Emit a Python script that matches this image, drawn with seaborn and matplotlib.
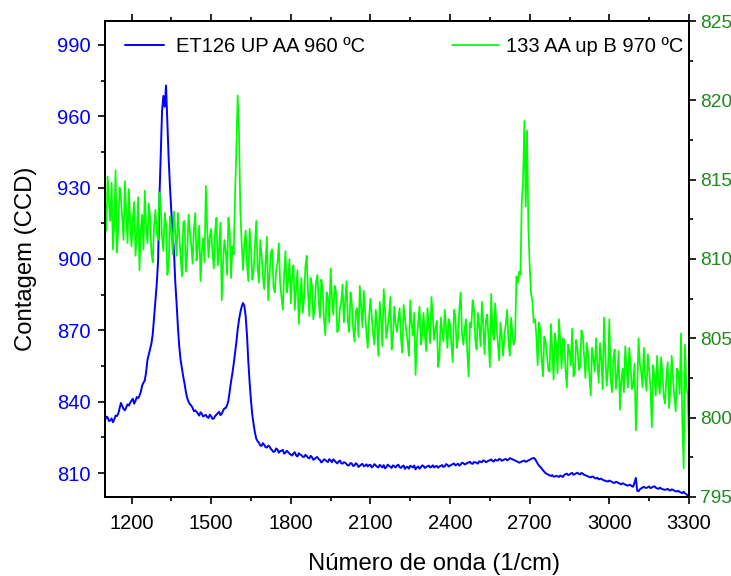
import numpy as np
import pandas as pd
import matplotlib
matplotlib.use("Agg")
import matplotlib.pyplot as plt
from matplotlib.ticker import MultipleLocator
import seaborn as sns

# Raman shift grid (1/cm): samples at 1100, 1105, ..., 3300
wavenumber = np.arange(1100, 3300.1, 5)

# ET126 UP AA 960 ºC (left axis) -- readings at 1100, 1110, ..., 3300
et126_even = [
    832.0, 833.5, 832.2, 831.4, 834.2, 835.0, 839.5, 837.0, 837.6, 838.4,
    840.5, 839.2, 842.0, 842.6, 846.8, 849.0, 857.5, 862.0, 868.5, 882.0,
    899.0, 943.0, 968.5, 972.9, 942.0, 920.0, 903.0, 881.0, 863.0, 854.0,
    847.5, 841.5, 839.0, 837.5, 836.4, 835.0, 835.6, 833.8, 834.5, 833.2,
    833.9, 833.0, 834.6, 835.8, 835.0, 837.2, 838.5, 844.5, 852.0, 860.5,
    870.5, 877.5, 881.5, 876.0, 857.0, 840.5, 830.5, 824.5, 822.8, 821.5,
    821.9, 820.8, 821.2, 819.6, 819.2, 819.9, 819.3, 819.8, 818.6, 818.9,
    817.8, 818.3, 817.5, 818.4, 817.6, 816.8, 817.2, 816.2, 816.7, 816.0,
    816.8, 815.5, 815.0, 815.6, 814.7, 815.4, 815.8, 814.6, 814.9, 814.2,
    814.6, 813.8, 813.4, 814.0, 813.3, 813.7, 813.1, 813.9, 813.2, 812.8,
    813.5, 812.9, 813.3, 812.4, 813.0, 813.4, 812.6, 813.1, 812.2, 812.9,
    813.2, 812.5, 812.9, 811.8, 812.7, 813.1, 812.4, 811.6, 812.8, 812.5,
    813.0, 812.6, 813.2, 812.7, 812.4, 813.0, 812.8, 813.4, 812.9, 813.5,
    813.2, 813.8, 813.3, 814.0, 813.6, 814.2, 813.9, 814.5, 814.1, 814.7,
    814.4, 815.0, 814.6, 815.2, 814.9, 815.4, 815.1, 815.7, 815.3, 815.8,
    815.5, 816.0, 815.7, 816.1, 815.6, 815.0, 814.4, 814.9, 815.3, 815.0,
    815.6, 816.2, 816.0, 814.0, 812.6, 811.2, 810.0, 809.4, 808.8, 808.5,
    808.9, 808.4, 808.7, 809.3, 809.8, 809.4, 810.1, 809.6, 810.2, 809.5,
    809.8, 809.1, 808.6, 808.2, 808.5, 807.8, 807.4, 807.7, 807.0, 806.6,
    806.9, 806.3, 805.9, 806.2, 805.6, 805.8, 805.2, 804.8, 805.0, 804.3,
    808.0, 802.4, 803.6, 804.2, 803.8, 804.4, 804.0, 804.5, 803.6, 803.9,
    803.3, 803.0, 803.4, 802.7, 803.0, 802.4, 802.6, 801.9, 802.2, 801.2,
    800.2,
]
# ET126 readings at 1105, 1115, ..., 3295
et126_odd = [
    833.8, 831.9, 833.0, 832.6, 834.0, 837.2, 838.2, 836.4, 838.9, 839.6,
    841.3, 840.4, 841.5, 844.2, 848.0, 852.4, 859.8, 864.5, 875.5, 889.5,
    925.0, 962.0, 964.0, 958.0, 930.0, 911.0, 890.0, 871.0, 857.5, 850.5,
    844.0, 840.0, 838.4, 836.0, 835.8, 834.2, 834.9, 834.2, 833.6, 834.6,
    832.8, 834.0, 835.2, 834.4, 836.3, 837.4, 840.5, 848.5, 856.0, 865.0,
    874.5, 880.0, 880.3, 868.0, 848.0, 834.5, 827.0, 823.4, 821.6, 822.6,
    820.9, 821.6, 820.2, 818.9, 820.4, 818.6, 819.4, 818.2, 819.4, 818.2,
    817.4, 818.8, 817.0, 817.8, 816.9, 817.7, 816.5, 817.3, 815.6, 816.5,
    815.9, 814.5, 815.8, 815.0, 815.9, 814.6, 815.3, 814.1, 815.3, 814.0,
    814.4, 813.2, 814.3, 813.0, 814.2, 812.6, 813.6, 812.9, 813.7, 813.4,
    812.4, 813.8, 812.7, 813.5, 812.4, 812.0, 813.6, 812.7, 813.3, 812.4,
    813.6, 812.2, 813.2, 812.5, 811.9, 812.8, 813.2, 812.4, 811.9, 813.3,
    812.2, 812.9, 812.4, 813.3, 812.9, 812.3, 813.1, 812.6, 813.8, 812.8,
    813.5, 814.1, 813.6, 813.2, 814.4, 813.7, 814.3, 814.8, 813.9, 814.5,
    814.0, 814.8, 815.4, 814.6, 815.3, 815.8, 814.9, 815.4, 816.0, 815.2,
    815.8, 815.4, 816.3, 815.8, 815.3, 814.8, 814.6, 815.1, 814.8, 815.4,
    816.0, 816.4, 815.0, 813.2, 812.0, 810.6, 809.7, 809.1, 809.2, 808.6,
    808.7, 809.0, 808.4, 809.6, 809.2, 809.9, 809.3, 809.9, 809.7, 810.1,
    809.3, 808.9, 808.4, 808.6, 807.9, 808.1, 807.6, 807.2, 806.8, 806.5,
    806.6, 806.0, 806.4, 805.8, 805.3, 805.5, 804.9, 805.1, 804.5, 806.2,
    802.6, 803.2, 804.0, 803.9, 804.1, 803.7, 804.3, 803.9, 803.4, 803.6,
    803.1, 803.2, 802.9, 803.2, 802.6, 802.3, 802.1, 801.6, 801.5, 800.6,
]

# 133 AA up B 970 ºC (right axis) -- readings at 1100, 1110, ..., 3300
s133_even = [
    813.1, 815.2, 812.4, 810.6, 815.6, 812.0, 813.8, 811.2, 812.9, 814.4,
    810.8, 813.6, 811.5, 809.3, 812.8, 814.3, 811.0, 812.6, 809.8, 813.1,
    811.2, 813.4, 810.5, 812.2, 809.6, 811.8, 813.0, 810.2, 811.5, 808.9,
    812.4, 810.4, 811.7, 809.7, 812.9, 810.8, 808.6, 811.3, 814.6, 810.1,
    811.9, 809.4, 812.6, 810.6, 807.4, 811.2, 809.0, 811.7, 810.8, 814.0,
    820.3, 813.0, 809.3, 811.8, 808.6, 810.7, 809.2, 812.4, 808.5, 810.3,
    808.1, 811.4, 809.0, 810.6, 807.9, 809.8, 808.4, 806.8, 810.5, 808.6,
    807.2, 809.6, 808.0, 805.9, 808.8, 807.5, 810.2, 806.4, 808.3, 807.0,
    809.0, 806.3, 808.1, 805.2, 807.6, 809.4, 806.5, 808.0, 805.6, 807.3,
    806.0, 808.6, 805.4, 807.2, 804.8, 806.9, 808.3, 805.7, 806.6, 804.4,
    807.5, 805.3, 806.8, 803.9, 806.2, 808.1, 805.0, 806.5, 804.3, 807.0,
    805.4, 806.9, 804.1, 806.3, 804.8, 807.4, 805.2, 802.7, 806.0, 804.6,
    806.6, 804.2, 805.8, 807.6, 804.9, 806.1, 803.8, 805.5, 806.8, 804.4,
    805.9, 803.5, 806.4, 805.0, 807.9, 804.6, 806.2, 802.6, 805.7, 806.9,
    804.3, 805.8, 807.3, 804.0, 806.5, 803.2, 805.4, 807.2, 804.7, 806.0,
    803.9, 805.9, 804.8, 806.3, 804.6, 808.9, 809.2, 813.5, 818.7, 818.1,
    809.6, 807.4, 806.2, 803.3, 805.5, 802.6, 804.8, 803.0, 805.9, 802.4,
    804.6, 806.2, 803.1, 804.9, 801.9, 804.2, 805.6, 802.8, 804.4, 803.2,
    805.2, 802.5, 804.0, 801.4, 803.7, 805.0, 802.2, 803.6, 806.3, 802.0,
    806.2, 801.6, 804.3, 802.7, 800.5, 803.1, 804.5, 801.9, 803.3, 802.1,
    799.2, 805.0, 802.9, 804.4, 801.7, 803.0, 799.4, 802.6, 803.9, 801.5,
    802.8, 800.9, 803.5, 801.8, 802.5, 800.4, 802.9, 805.3, 796.8, 802.0,
    798.4,
]
# 133 readings at 1105, 1115, ..., 3295
s133_odd = [
    811.8, 813.6, 814.8, 812.2, 810.4, 814.5, 812.6, 814.9, 811.0, 812.3,
    812.5, 810.2, 813.9, 811.8, 810.6, 812.0, 813.5, 810.4, 812.1, 811.6,
    814.2, 811.4, 812.9, 809.0, 812.7, 810.3, 811.6, 812.9, 810.1, 812.3,
    809.2, 812.8, 810.9, 811.8, 809.9, 812.1, 810.5, 809.8, 812.0, 811.4,
    810.4, 811.8, 809.6, 812.3, 809.8, 810.5, 812.6, 808.8, 810.3, 817.0,
    818.0, 811.0, 810.9, 809.7, 811.9, 808.7, 810.9, 809.5, 811.2, 808.9,
    809.7, 807.4, 810.4, 808.2, 809.3, 811.0, 807.6, 809.1, 807.9, 810.0,
    808.9, 806.8, 809.3, 807.4, 806.6, 809.5, 807.9, 808.8, 806.2, 808.5,
    807.4, 808.7, 806.2, 807.9, 806.0, 807.6, 808.3, 805.4, 806.9, 808.4,
    807.3, 806.1, 807.9, 805.6, 806.7, 805.1, 807.0, 808.0, 805.3, 806.4,
    806.4, 804.6, 805.9, 807.3, 804.5, 806.8, 805.7, 807.6, 805.1, 805.9,
    806.2, 805.0, 807.1, 805.5, 803.9, 806.0, 806.6, 804.9, 807.0, 805.2,
    805.2, 806.9, 804.7, 806.4, 805.6, 803.2, 806.3, 804.8, 805.7, 806.2,
    804.6, 806.8, 804.4, 806.9, 805.3, 805.6, 804.1, 806.0, 807.4, 804.9,
    806.6, 804.5, 805.9, 806.1, 804.8, 807.8, 804.9, 805.8, 803.6, 805.1,
    805.3, 806.8, 803.9, 805.2, 805.0, 808.5, 809.0, 815.0, 813.3, 812.0,
    807.8, 806.0, 805.2, 806.0, 803.7, 805.1, 804.0, 802.9, 804.3, 805.3,
    802.8, 804.9, 805.0, 803.0, 804.6, 803.3, 802.6, 804.9, 803.0, 805.5,
    803.9, 804.7, 802.6, 804.4, 802.9, 803.4, 804.7, 801.8, 804.0, 803.1,
    802.4, 803.7, 801.8, 804.2, 802.3, 801.6, 803.2, 804.4, 801.8, 803.4,
    801.6, 803.4, 801.9, 802.5, 804.0, 801.9, 803.3, 801.4, 802.3, 803.8,
    801.3, 802.6, 800.6, 803.9, 801.3, 803.1, 801.5, 799.7, 804.6, 801.5,
]

blue_label = "ET126 UP AA 960 ºC"
green_label = "133 AA up B 970 ºC"
x_title = "Número de onda (1/cm)"
y_title = "Contagem (CCD)"


def merge(even, odd):
    out = np.empty(len(even) + len(odd))
    out[0::2] = even
    out[1::2] = odd
    return out


df_blue = pd.DataFrame({"wn": wavenumber, "counts": merge(et126_even, et126_odd)})
df_green = pd.DataFrame({"wn": wavenumber, "counts": merge(s133_even, s133_odd)})

sns.set_style("ticks")
plt.rcParams["font.family"] = ["Liberation Sans", "DejaVu Sans"]
plt.rcParams["text.color"] = "black"
plt.rcParams["axes.labelcolor"] = "black"
plt.rcParams["xtick.color"] = "black"
plt.rcParams["ytick.color"] = "black"

BLUE = "#0000ff"
LIME = "#00ff00"
DARKGREEN = "#1e8c1e"

fig = plt.figure(figsize=(7.31, 5.76), dpi=100)
ax = fig.add_axes([0.1436, 0.1372, 0.7989, 0.8263])
ax2 = ax.twinx()

sns.lineplot(data=df_blue, x="wn", y="counts", ax=ax, color=BLUE,
             linewidth=1.4, sort=False, estimator=None, label=blue_label)
sns.lineplot(data=df_green, x="wn", y="counts", ax=ax2, color=LIME,
             linewidth=1.25, sort=False, estimator=None, label=green_label)

ax.set_xlim(1100, 3300)
ax.set_ylim(800, 1000)
ax2.set_ylim(795, 825)

ax.set_xticks(np.arange(1200, 3301, 300))
ax.xaxis.set_minor_locator(MultipleLocator(150))
ax.set_yticks(np.arange(810, 991, 30))
ax.yaxis.set_minor_locator(MultipleLocator(15))
ax2.set_yticks(np.arange(795, 826, 5))
ax2.yaxis.set_minor_locator(MultipleLocator(2.5))

for a in (ax, ax2):
    for sp in a.spines.values():
        sp.set_visible(True)
        sp.set_color("black")
        sp.set_linewidth(1.3)

ax.tick_params(axis="x", which="both", direction="out", top=True,
               labelsize=14.5, colors="black", width=1.2, pad=7)
ax.tick_params(axis="x", which="major", length=5)
ax.tick_params(axis="x", which="minor", length=3)
ax.tick_params(axis="y", which="both", direction="out", labelsize=14.5,
               labelcolor=BLUE, color="black", width=1.2, pad=5)
ax.tick_params(axis="y", which="major", length=5)
ax.tick_params(axis="y", which="minor", length=3)
ax2.tick_params(axis="y", which="both", direction="out", labelsize=13.8,
                labelcolor=DARKGREEN, color="black", width=1.2, pad=3)
ax2.tick_params(axis="y", which="major", length=5)
ax2.tick_params(axis="y", which="minor", length=3)

ax.set_xlabel(x_title, fontsize=17.2, color="black")
ax.xaxis.set_label_coords(0.563, -0.117)
ax.set_ylabel(y_title, fontsize=17.2, labelpad=15, color="black")
ax2.set_ylabel("")

ax.legend(loc="upper left", bbox_to_anchor=(0.035, 0.967), frameon=False,
          fontsize=14.5, handlelength=1.9, handletextpad=0.6,
          borderaxespad=0, borderpad=0)
ax2.legend(loc="upper right", bbox_to_anchor=(0.99, 0.967), frameon=False,
           fontsize=14.5, handlelength=2.3, handletextpad=0.35,
           borderaxespad=0, borderpad=0)

fig.savefig("out.png", dpi=100)
